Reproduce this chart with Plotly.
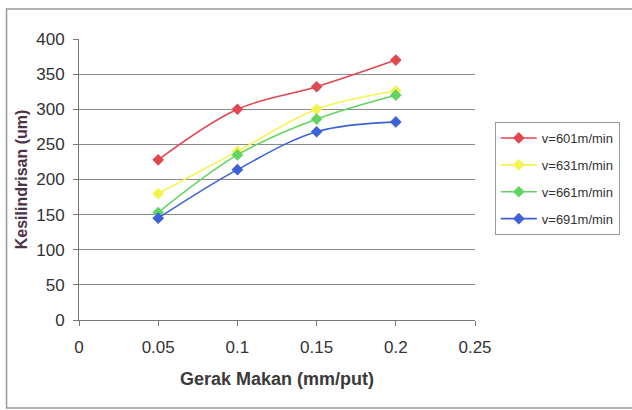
import plotly.graph_objects as go

# Feed rate (mm/put) and measured cylindricity (um) at four cutting speeds
gerak_makan = [0.05, 0.1, 0.15, 0.2]
series_names = ["v=601m/min", "v=631m/min", "v=661m/min", "v=691m/min"]
v601 = [228, 300, 332, 370]
v631 = [180, 240, 300, 326]
v661 = [153, 235, 286, 320]
v691 = [145, 214, 268, 282]
series_values = [v601, v631, v661, v691]
series_colors = ["#e0474f", "#f4f450", "#62d462", "#3d62d8"]
y_ticks = [0, 50, 100, 150, 200, 250, 300, 350, 400]
x_ticks = [0, 0.05, 0.1, 0.15, 0.2, 0.25]
x_labels = ["0", "0.05", "0.1", "0.15", "0.2", "0.25"]

fig = go.Figure()
for name, vals, col in zip(series_names, series_values, series_colors):
    fig.add_trace(go.Scatter(
        x=gerak_makan, y=vals, name=name, legendgroup=name,
        mode="lines+markers",
        line=dict(color=col, width=1.6, shape="spline"),
        marker=dict(symbol="diamond", size=9, color=col),
    ))

font_family = "Liberation Sans, Arial, sans-serif"

fig.update_layout(
    width=632, height=410,
    margin=dict(l=79, r=154, t=39, b=90),
    paper_bgcolor="white", plot_bgcolor="white",
    font=dict(family=font_family, color="#333333"),
    showlegend=True,
    legend=dict(
        x=1.05, y=0.7046, xanchor="left", yanchor="top",
        bordercolor="#9a9a9a", borderwidth=1, bgcolor="white",
        font=dict(size=13, color="#333333", family=font_family),
        traceorder="grouped", tracegroupgap=7,
        itemwidth=36,
    ),
    xaxis=dict(
        range=[0, 0.25], tickvals=x_ticks, ticktext=x_labels,
        showgrid=False, zeroline=False,
        showline=True, linecolor="#777777", linewidth=1,
        ticks="outside", ticklen=5, tickcolor="#777777",
        ticklabelstandoff=7,
        tickfont=dict(size=17, color="#333333"),
        title=dict(text="<b>Gerak Makan (mm/put)</b>",
                   font=dict(size=18, color="#3a3a3a"), standoff=15),
    ),
    yaxis=dict(
        range=[0, 400], tickvals=y_ticks,
        showgrid=True, gridcolor="#8a8a8a", gridwidth=1,
        zeroline=False,
        showline=True, linecolor="#777777", linewidth=1,
        ticks="outside", ticklen=5, tickcolor="#777777",
        ticklabelstandoff=5,
        tickfont=dict(size=17, color="#333333"),
        title=dict(text="<b>Kesilindrisan (um)</b>",
                   font=dict(size=16, color="#4d3347"), standoff=4),
    ),
    shapes=[
        # outer chart frame
        dict(type="rect", xref="paper", yref="paper",
             x0=-0.183, x1=1.42, y0=-0.313, y1=1.107,
             line=dict(color="#9a9a9a", width=1.5), layer="below"),
    ],
)

fig.write_html("out.html")
